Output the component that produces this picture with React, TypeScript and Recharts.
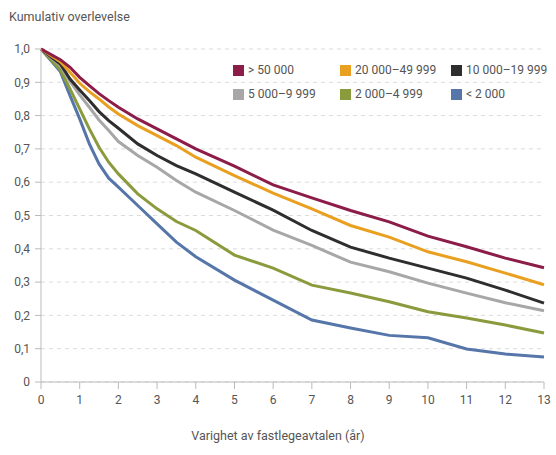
import { LineChart, Line, XAxis, YAxis, CartesianGrid } from 'recharts'

// Years of contract (x) and read-off survival values for each list-size group
const years = [0, 0.5, 0.75, 1, 1.25, 1.5, 1.75, 2, 2.5, 3, 3.5, 4, 5, 6, 7, 8, 9, 10, 11, 12, 13]
const over50000 = [1, 0.968, 0.945, 0.915, 0.89, 0.866, 0.845, 0.825, 0.79, 0.76, 0.73, 0.7, 0.648, 0.592, 0.553, 0.515, 0.481, 0.438, 0.406, 0.372, 0.343]
const from20000 = [1, 0.962, 0.93, 0.897, 0.872, 0.85, 0.826, 0.805, 0.77, 0.74, 0.71, 0.675, 0.62, 0.567, 0.52, 0.47, 0.435, 0.391, 0.361, 0.327, 0.292]
const from10000 = [1, 0.955, 0.91, 0.877, 0.845, 0.812, 0.785, 0.762, 0.715, 0.68, 0.65, 0.625, 0.57, 0.516, 0.455, 0.405, 0.372, 0.342, 0.312, 0.276, 0.237]
const from5000 = [1, 0.95, 0.903, 0.862, 0.825, 0.787, 0.755, 0.722, 0.68, 0.645, 0.605, 0.57, 0.515, 0.456, 0.41, 0.36, 0.331, 0.297, 0.267, 0.238, 0.214]
const from2000 = [1, 0.937, 0.88, 0.82, 0.76, 0.705, 0.66, 0.625, 0.565, 0.52, 0.482, 0.455, 0.381, 0.342, 0.291, 0.267, 0.241, 0.211, 0.192, 0.171, 0.147]
const under2000 = [1, 0.932, 0.86, 0.79, 0.715, 0.655, 0.612, 0.585, 0.53, 0.475, 0.42, 0.376, 0.306, 0.246, 0.186, 0.162, 0.14, 0.133, 0.099, 0.084, 0.075]

const xTicks = [0, 1, 2, 3, 4, 5, 6, 7, 8, 9, 10, 11, 12, 13]
const yTicks = [0, 0.1, 0.2, 0.3, 0.4, 0.5, 0.6, 0.7, 0.8, 0.9, 1]

const series = [
  { key: 'over50000', name: '> 50 000', values: over50000, color: '#8c1c48' },
  { key: 'from20000', name: '20 000–49 999', values: from20000, color: '#e9a020' },
  { key: 'from10000', name: '10 000–19 999', values: from10000, color: '#2e2e2e' },
  { key: 'from5000', name: '5 000–9 999', values: from5000, color: '#a7a7a7' },
  { key: 'from2000', name: '2 000–4 999', values: from2000, color: '#8a9b3d' },
  { key: 'under2000', name: '< 2 000', values: under2000, color: '#5676aa' },
]

const data = years.map((t, i) => {
  const row: Record<string, number> = { t }
  series.forEach((s) => {
    row[s.key] = s.values[i]
  })
  return row
})

const font = 'Roboto, "Noto Sans", sans-serif'
const textColor = '#555'

function LegendBox() {
  return (
    <div
      style={{
        position: 'absolute',
        left: 233,
        top: 63,
        display: 'grid',
        gridTemplateColumns: '107px 111px 100px',
        rowGap: 10,
        fontFamily: font,
        fontSize: 12,
        color: textColor,
      }}
    >
      {series.map((s) => (
        <div key={s.key} style={{ display: 'flex', alignItems: 'center', whiteSpace: 'nowrap' }}>
          <span
            style={{
              width: 11,
              height: 11,
              background: s.color,
              display: 'inline-block',
              marginRight: 4,
            }}
          />
          {s.name}
        </div>
      ))}
    </div>
  )
}

export default function App() {
  return (
    <div style={{ position: 'relative', width: 556, height: 455, background: '#fff' }}>
      <style>{`body{margin:0}`}</style>
      <div
        style={{
          position: 'absolute',
          left: 9,
          top: 9,
          fontFamily: font,
          fontSize: 12.5,
          color: textColor,
        }}
      >
        Kumulativ overlevelse
      </div>
      <LineChart
        width={556}
        height={455}
        data={data}
        margin={{ top: 49, right: 12, left: 0, bottom: 0 }}
      >
        <CartesianGrid
          horizontal
          vertical={false}
          strokeDasharray="4 4"
          stroke="#dcdcdc"
        />
        <XAxis
          dataKey="t"
          type="number"
          domain={[0, 13]}
          ticks={xTicks}
          height={73}
          stroke="#bbb"
          tickSize={7}
          tickMargin={6}
          tick={{ fill: textColor, fontSize: 12, fontFamily: font }}
          interval={0}
        />
        <YAxis
          type="number"
          domain={[0, 1]}
          ticks={yTicks}
          width={41}
          stroke="#bbb"
          tickSize={6}
          tickMargin={5}
          tick={{ fill: textColor, fontSize: 12, fontFamily: font }}
          tickFormatter={(v: number) => (v === 0 ? '0' : v.toFixed(1).replace('.', ','))}
          interval={0}
        />
        {[...series].reverse().map((s) => (
          <Line
            key={s.key}
            dataKey={s.key}
            name={s.name}
            type="linear"
            stroke={s.color}
            strokeWidth={3}
            dot={false}
            isAnimationActive={false}
          />
        ))}
      </LineChart>
      <LegendBox />
      <div
        style={{
          position: 'absolute',
          left: 0,
          width: 556,
          top: 428,
          textAlign: 'center',
          fontFamily: font,
          fontSize: 12.5,
          color: textColor,
        }}
      >
        Varighet av fastlegeavtalen (år)
      </div>
    </div>
  )
}
